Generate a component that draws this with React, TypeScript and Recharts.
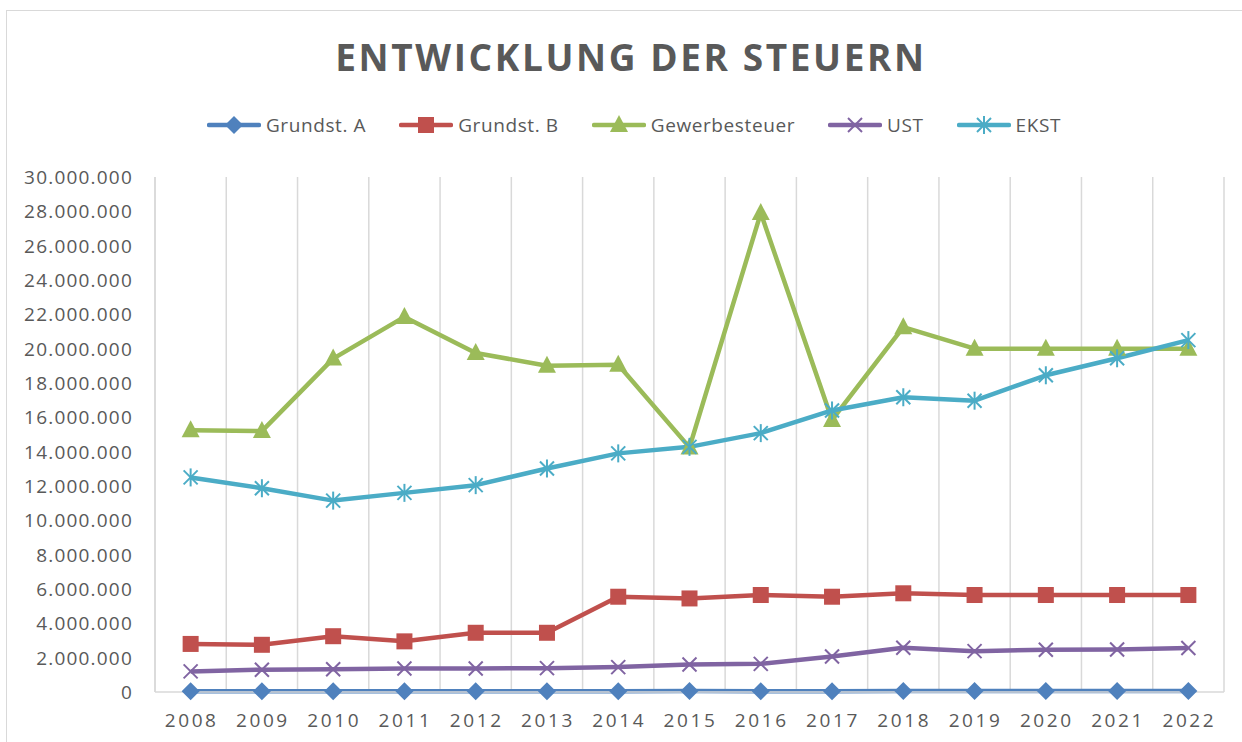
import React from 'react';
import { LineChart, Line, XAxis, YAxis, CartesianGrid } from 'recharts';

const years = ['2008', '2009', '2010', '2011', '2012', '2013', '2014', '2015', '2016', '2017', '2018', '2019', '2020', '2021', '2022'];
const grundstA = [40000, 42000, 45000, 45000, 47000, 47000, 50000, 52000, 50000, 50000, 55000, 55000, 55000, 55000, 55000];
const grundstB = [2800000, 2750000, 3250000, 2950000, 3450000, 3450000, 5550000, 5450000, 5650000, 5550000, 5750000, 5650000, 5650000, 5650000, 5650000];
const gewerbe = [15250000, 15200000, 19420000, 21850000, 19750000, 19000000, 19060000, 14250000, 27900000, 15850000, 21250000, 20000000, 20000000, 20000000, 20000000];
const ust = [1200000, 1300000, 1330000, 1370000, 1370000, 1390000, 1450000, 1600000, 1640000, 2070000, 2580000, 2380000, 2460000, 2480000, 2560000];
const ekst = [12500000, 11870000, 11150000, 11600000, 12050000, 13020000, 13900000, 14280000, 15080000, 16400000, 17170000, 16970000, 18450000, 19440000, 20500000];
const yTicks = [0, 2000000, 4000000, 6000000, 8000000, 10000000, 12000000, 14000000, 16000000, 18000000, 20000000, 22000000, 24000000, 26000000, 28000000, 30000000];

const seriesNames = ['Grundst. A', 'Grundst. B', 'Gewerbesteuer', 'UST', 'EKST'];
const seriesColors = ['#4F81BD', '#C0504D', '#9BBB59', '#8064A2', '#4BACC6'];
const seriesKeys = ['a', 'b', 'g', 'u', 'e'];

const data = years.map((y, i) => ({
  i,
  year: y,
  a: grundstA[i],
  b: grundstB[i],
  g: gewerbe[i],
  u: ust[i],
  e: ekst[i],
}));

const FONT = '"Open Sans", "Noto Sans", sans-serif';
const TXT = '#595959';

const fmt = (v: number) => String(Math.round(v)).replace(/\B(?=(\d{3})+(?!\d))/g, '.');

function Marker({ kind, cx, cy, color }: { kind: number; cx: number; cy: number; color: string }) {
  if (cx == null || cy == null || isNaN(cx) || isNaN(cy)) return null;
  switch (kind) {
    case 0:
      return <polygon points={`${cx},${cy - 9} ${cx + 9},${cy} ${cx},${cy + 9} ${cx - 9},${cy}`} fill={color} />;
    case 1:
      return <rect x={cx - 8} y={cy - 8} width={16} height={16} fill={color} />;
    case 2:
      return <polygon points={`${cx},${cy - 10} ${cx + 9},${cy + 7} ${cx - 9},${cy + 7}`} fill={color} />;
    case 3:
      return (
        <g stroke={color} strokeWidth={2}>
          <line x1={cx - 7} y1={cy - 7} x2={cx + 7} y2={cy + 7} />
          <line x1={cx - 7} y1={cy + 7} x2={cx + 7} y2={cy - 7} />
        </g>
      );
    default:
      return (
        <g stroke={color} strokeWidth={2}>
          <line x1={cx - 7} y1={cy - 7} x2={cx + 7} y2={cy + 7} />
          <line x1={cx - 7} y1={cy + 7} x2={cx + 7} y2={cy - 7} />
          <line x1={cx} y1={cy - 9} x2={cx} y2={cy + 9} />
        </g>
      );
  }
}

const XTick = (props: any) => {
  const { x, y, payload } = props;
  return (
    <text x={x + 1} y={y + 35} textAnchor="middle" fill={TXT} fontSize={19} fontFamily={FONT} letterSpacing={2.6}>
      {years[payload.value]}
    </text>
  );
};

const YTick = (props: any) => {
  const { x, y, payload } = props;
  return (
    <text x={x - 22} y={y + 7} textAnchor="end" fill={TXT} fontSize={19} fontFamily={FONT} letterSpacing={1.2}>
      {fmt(payload.value)}
    </text>
  );
};

function LegendSwatch({ idx }: { idx: number }) {
  return (
    <svg width={54} height={22} style={{ display: 'block' }}>
      <line x1={2} y1={11} x2={52} y2={11} stroke={seriesColors[idx]} strokeWidth={4.5} strokeLinecap="round" />
      <Marker kind={idx} cx={27} cy={11} color={seriesColors[idx]} />
    </svg>
  );
}

export default function App() {
  return (
    <div style={{ position: 'absolute', left: 0, top: 0, width: 1242, height: 742, overflow: 'hidden', background: '#fff' }}>
      <div style={{ position: 'absolute', left: 6, top: 10, width: 1300, height: 800, border: '1.5px solid #d9d9d9' }} />
      <div style={{ position: 'absolute', left: 0, top: 0 }}>
        <LineChart width={1242} height={742} data={data} margin={{ top: 177, right: 18, bottom: 10, left: 0 }}>
          <CartesianGrid
            horizontal={false}
            vertical
            stroke="#d9d9d9"
            strokeWidth={1.5}
            verticalCoordinatesGenerator={({ offset }: any) => {
              const out: number[] = [];
              for (let k = 0; k <= years.length; k++) out.push(offset.left + (k * offset.width) / years.length);
              return out;
            }}
          />
          <XAxis
            dataKey="i"
            type="number"
            domain={[-0.5, years.length - 0.5]}
            ticks={years.map((_, i) => i)}
            interval={0}
            height={40}
            tickLine={false}
            tickSize={0}
            tickMargin={0}
            axisLine={{ stroke: '#d9d9d9', strokeWidth: 1.5 }}
            tick={<XTick />}
          />
          <YAxis
            type="number"
            domain={[0, 30000000]}
            ticks={yTicks}
            interval={0}
            width={155}
            tickLine={false}
            tickSize={0}
            tickMargin={0}
            axisLine={{ stroke: '#d9d9d9', strokeWidth: 1.5 }}
            tick={<YTick />}
          />
          {seriesKeys.map((k, idx) => (
            <Line
              key={k}
              dataKey={k}
              name={seriesNames[idx]}
              stroke={seriesColors[idx]}
              strokeWidth={4.5}
              isAnimationActive={false}
              strokeLinejoin="round"
              dot={(p: any) => <Marker key={`${k}-${p.index}`} kind={idx} cx={p.cx} cy={p.cy} color={seriesColors[idx]} />}
              activeDot={false}
            />
          ))}
        </LineChart>
      </div>
      <svg width={1242} height={742} style={{ position: 'absolute', left: 0, top: 0, pointerEvents: 'none' }}>
        <text x={631} y={71} textAnchor="middle" fill={TXT} fontSize={37} fontWeight={700} fontFamily={FONT} letterSpacing={2.6}>
          ENTWICKLUNG DER STEUERN
        </text>
      </svg>
      <div
        style={{
          position: 'absolute',
          left: 0,
          top: 114,
          width: 1268,
          display: 'flex',
          justifyContent: 'center',
          alignItems: 'center',
          fontFamily: FONT,
          fontSize: 19,
          letterSpacing: 0.6,
          color: TXT,
          lineHeight: '22px',
        }}
      >
        {seriesNames.map((n, idx) => (
          <div key={n} style={{ display: 'flex', alignItems: 'center', marginRight: idx < seriesNames.length - 1 ? 33 : 0 }}>
            <LegendSwatch idx={idx} />
            <span style={{ marginLeft: 5, whiteSpace: 'nowrap' }}>{n}</span>
          </div>
        ))}
      </div>
    </div>
  );
}
